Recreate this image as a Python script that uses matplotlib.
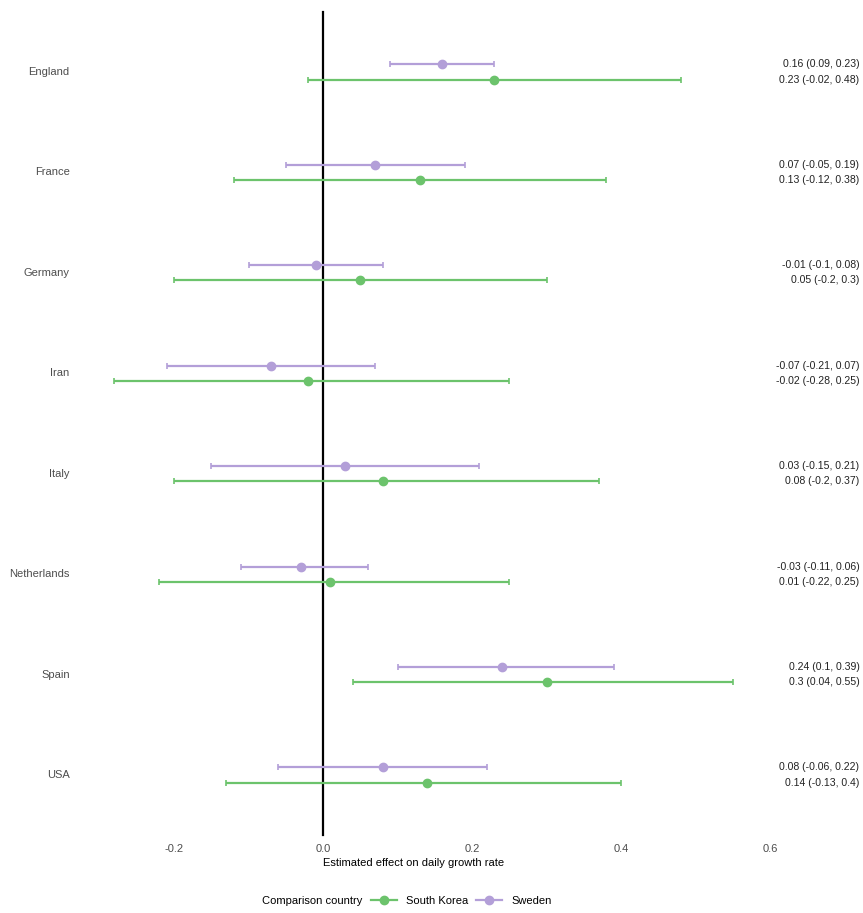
import matplotlib
matplotlib.use("Agg")
import matplotlib.pyplot as plt
from matplotlib.lines import Line2D

plt.rcParams['font.family'] = ['Liberation Sans', 'DejaVu Sans']

# data
countries = ["England", "France", "Germany", "Iran", "Italy", "Netherlands", "Spain", "USA"]
sweden_est = [0.16, 0.07, -0.01, -0.07, 0.03, -0.03, 0.24, 0.08]
sweden_lo = [0.09, -0.05, -0.1, -0.21, -0.15, -0.11, 0.1, -0.06]
sweden_hi = [0.23, 0.19, 0.08, 0.07, 0.21, 0.06, 0.39, 0.22]
korea_est = [0.23, 0.13, 0.05, -0.02, 0.08, 0.01, 0.3, 0.14]
korea_lo = [-0.02, -0.12, -0.2, -0.28, -0.2, -0.22, 0.04, -0.13]
korea_hi = [0.48, 0.38, 0.3, 0.25, 0.37, 0.25, 0.55, 0.4]
sweden_txt = ["0.16 (0.09, 0.23)", "0.07 (-0.05, 0.19)", "-0.01 (-0.1, 0.08)", "-0.07 (-0.21, 0.07)",
              "0.03 (-0.15, 0.21)", "-0.03 (-0.11, 0.06)", "0.24 (0.1, 0.39)", "0.08 (-0.06, 0.22)"]
korea_txt = ["0.23 (-0.02, 0.48)", "0.13 (-0.12, 0.38)", "0.05 (-0.2, 0.3)", "-0.02 (-0.28, 0.25)",
             "0.08 (-0.2, 0.37)", "0.01 (-0.22, 0.25)", "0.3 (0.04, 0.55)", "0.14 (-0.13, 0.4)"]
xticks = [-0.2, 0.0, 0.2, 0.4, 0.6]

green = "#6cc36c"
purple = "#b39fd8"
txt_grey = "#4d4d4d"

fig = plt.figure(figsize=(8.63, 9.13), dpi=100)
ax = fig.add_axes([0, 0, 1, 1])
ax.set_xlim(-0.4336, 0.7248)
ax.set_ylim(9.374, 0.283)
ax.axis("off")

# reference line at zero
ax.plot([0, 0], [0.4, 8.6], color="black", lw=1.6, zorder=1)

ypos = list(range(1, len(countries) + 1))
off = 0.075
ys = [y - off for y in ypos]
yk = [y + off for y in ypos]

for est, lo, hi, yy, col in [(sweden_est, sweden_lo, sweden_hi, ys, purple),
                             (korea_est, korea_lo, korea_hi, yk, green)]:
    err = [[e - l for e, l in zip(est, lo)], [h - e for e, h in zip(est, hi)]]
    ax.errorbar(est, yy, xerr=err, fmt="o", color=col, ms=6, elinewidth=1.6,
                capsize=2, capthick=1.2, zorder=3)

for y, name, st, kt in zip(ypos, countries, sweden_txt, korea_txt):
    ax.text(-0.34, y, name, ha="right", va="center", fontsize=8, color=txt_grey)
    ax.text(0.72, y - off, st, ha="right", va="center", fontsize=7.6, color="#222222")
    ax.text(0.72, y + off, kt, ha="right", va="center", fontsize=7.6, color="#222222")

for t in xticks:
    ax.text(t, 8.737, f"{t:.1f}", ha="center", va="center", fontsize=8, color=txt_grey)
ax.text(0.0, 8.876, "Estimated effect on daily growth rate", ha="left", va="center",
        fontsize=8, color="black")

# legend laid out in one row, title on the left
legend_y = 1 - 901 / 913
fig.text(362 / 863, legend_y, "Comparison country", ha="right", va="center",
         fontsize=8, color="black")
handles = [Line2D([0], [0], color=green, marker="o", lw=1.6, ms=6),
           Line2D([0], [0], color=purple, marker="o", lw=1.6, ms=6)]
fig.legend(handles, ["South Korea", "Sweden"], ncol=2, loc="center left",
           bbox_to_anchor=(371 / 863, legend_y), frameon=False, borderpad=0,
           borderaxespad=0, fontsize=8, handlelength=2.35, columnspacing=0.7,
           handletextpad=0.8)

fig.savefig("out.png", dpi=100)
